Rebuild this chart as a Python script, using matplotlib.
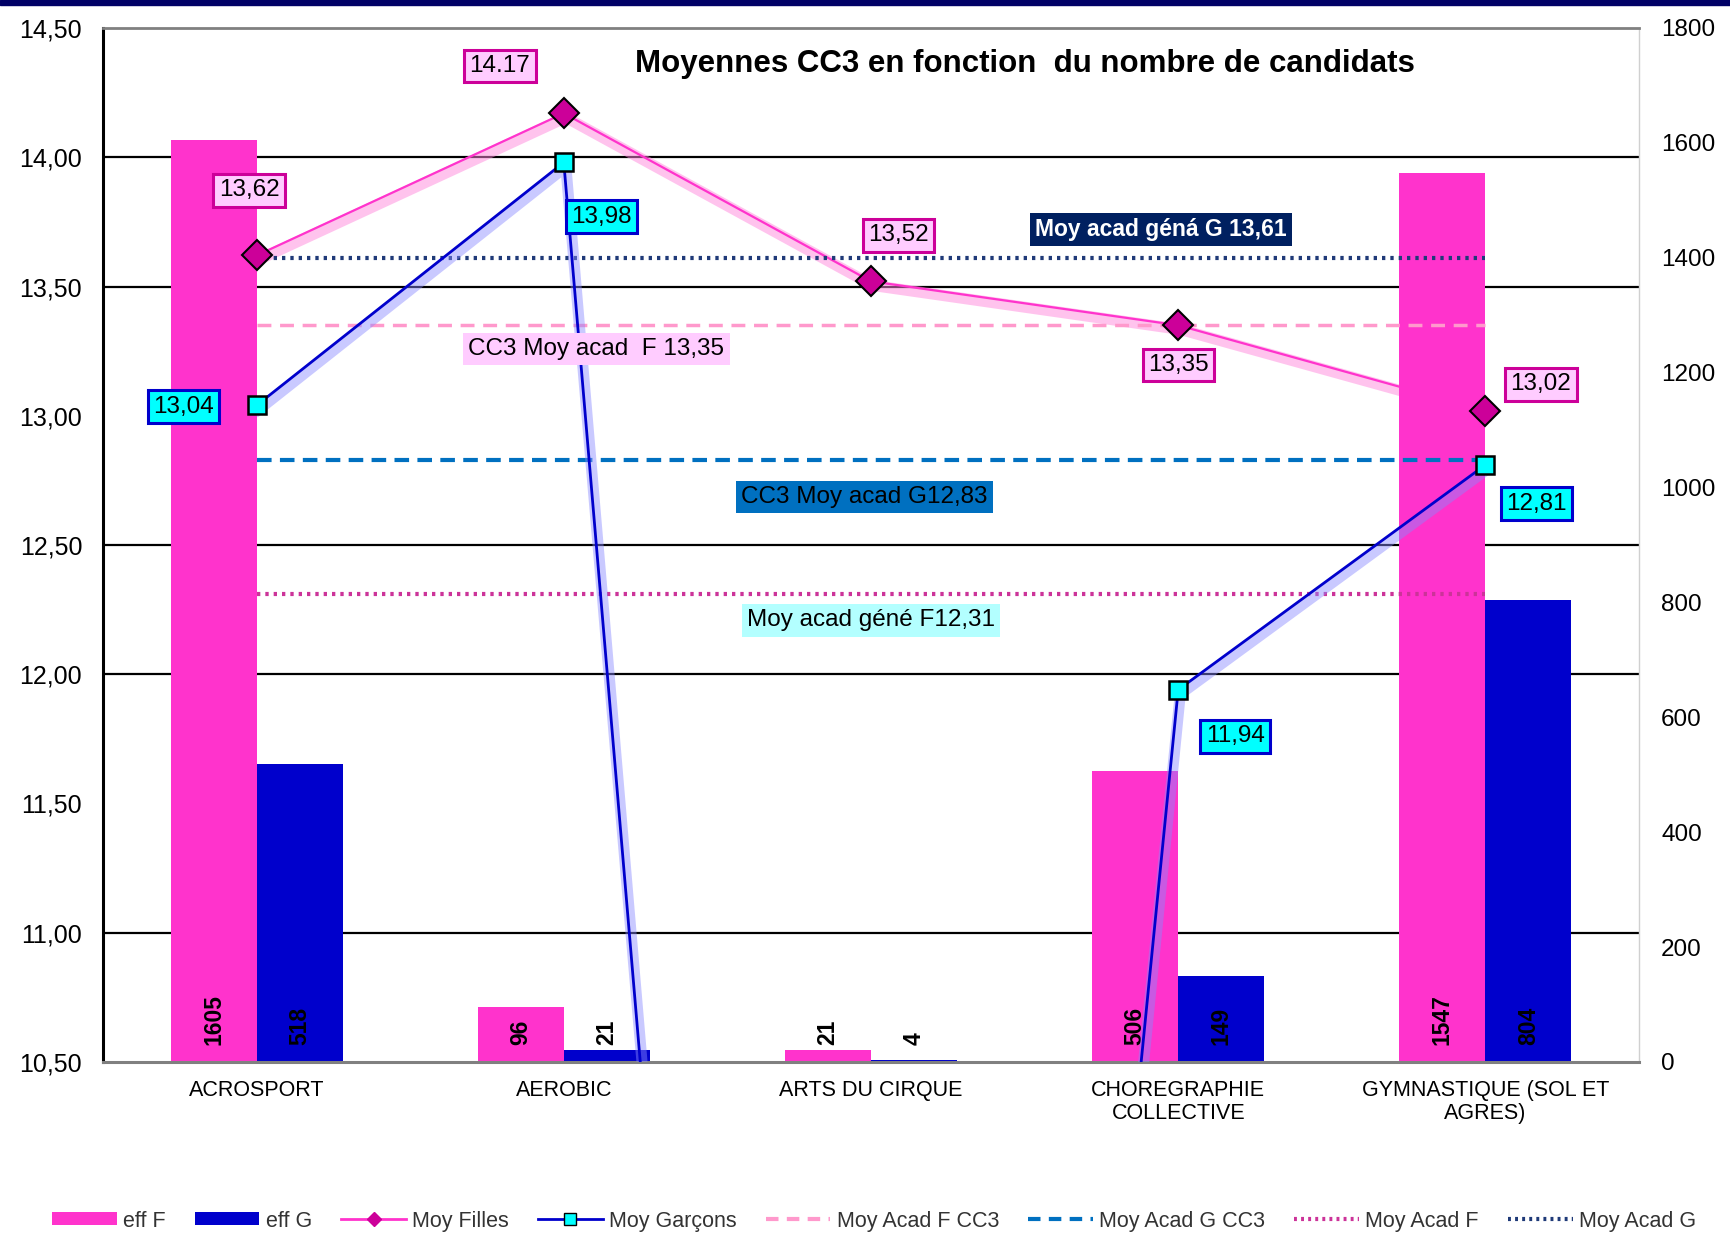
import matplotlib
matplotlib.use("Agg")
import matplotlib.pyplot as plt
import matplotlib.patheffects as pe
from matplotlib.ticker import FuncFormatter
from matplotlib.patches import Rectangle, Patch
from matplotlib.lines import Line2D
import numpy as np

plt.rcParams['font.family'] = ['Liberation Sans', 'DejaVu Sans']

# ---------------- data ----------------
categories = ["ACROSPORT", "AEROBIC", "ARTS DU CIRQUE",
              "CHOREGRAPHIE\nCOLLECTIVE", "GYMNASTIQUE (SOL ET\nAGRES)"]
eff_f = [1605, 96, 21, 506, 1547]
eff_g = [518, 21, 4, 149, 804]
moy_filles = [13.62, 14.17, 13.52, 13.35, 13.02]
moy_garcons = [13.04, 13.98, 0.0, 11.94, 12.81]
filles_labels = ["13,62", "14.17", "13,52", "13,35", "13,02"]
garcons_labels = ["13,04", "13,98", "", "11,94", "12,81"]
moy_acad_f_cc3 = [13.35, 13.35, 13.35, 13.35, 13.35]
moy_acad_g_cc3 = [12.83, 12.83, 12.83, 12.83, 12.83]
moy_acad_f = [12.31, 12.31, 12.31, 12.31, 12.31]
moy_acad_g = [13.61, 13.61, 13.61, 13.61, 13.61]
left_ticks = [10.5, 11.0, 11.5, 12.0, 12.5, 13.0, 13.5, 14.0, 14.5]
right_ticks = [0, 200, 400, 600, 800, 1000, 1200, 1400, 1600, 1800]
grid_levels = [11.0, 12.0, 12.5, 13.5, 14.0]
title = "Moyennes CC3 en fonction  du nombre de candidats"
legend_labels = ["eff F", "eff G", "Moy Filles", "Moy Garçons",
                 "Moy Acad F CC3", "Moy Acad G CC3", "Moy Acad F", "Moy Acad G"]

# ---------------- colours / styles ----------------
PINK = "#FF33CC"
BLUE = "#0000CC"
DIAMOND = "#CC0099"
CYAN = "#00FFFF"
C_FCC3 = "#FF99CC"
C_GCC3 = "#0070C0"
C_F = "#CC3399"
C_G = "#1F3A78"

fig = plt.figure(figsize=(17.31, 12.39), dpi=100)
fig.patches.append(Rectangle((0, 1 - 5 / 1239), 1, 5 / 1239, transform=fig.transFigure,
                             color="#000066", zorder=0))

rect = [103 / 1731, 177 / 1239, (1639 - 103) / 1731, (1062 - 28) / 1239]
ax_back = fig.add_axes(rect)
ax_bars = ax_back.twinx()
ax_front = ax_back.twinx()

x = np.arange(len(categories))
w = 0.28

# back axis: gridlines + girls line (behind bars)
ax_back.set_xlim(-0.5, len(categories) - 0.5)
ax_back.set_ylim(10.5, 14.5)
for g in grid_levels:
    ax_back.axhline(g, color="black", lw=1.6, zorder=1)
ax_back.plot(x, moy_filles, color=PINK, lw=1.6, zorder=2,
             path_effects=[pe.SimpleLineShadow(offset=(1.5, -3), shadow_color="#FF88DD",
                                               alpha=0.5, linewidth=8), pe.Normal()])
ax_back.set_yticks(left_ticks)
ax_back.yaxis.set_major_formatter(FuncFormatter(lambda v, p: f"{v:.2f}".replace(".", ",")))
ax_back.tick_params(axis="y", length=0, pad=15, labelsize=18)
ax_back.set_xticks(x)
ax_back.set_xticklabels(categories, fontsize=15.5, linespacing=1.1)
ax_back.tick_params(axis="x", length=0, pad=13)
for s in ax_back.spines.values():
    s.set_visible(False)

# bars axis
ax_bars.set_ylim(0, 1800)
ax_bars.bar(x - w / 2, eff_f, width=w, color=PINK, zorder=2)
ax_bars.bar(x + w / 2, eff_g, width=w, color=BLUE, zorder=2)
for xi, v in zip(x, eff_f):
    ax_bars.annotate(str(v), xy=(xi - w / 2, 0), xytext=(0, 12), textcoords="offset points",
                     rotation=90, ha="center", va="bottom", fontsize=16.5,
                     fontweight="bold", color="black")
for xi, v in zip(x, eff_g):
    ax_bars.annotate(str(v), xy=(xi + w / 2, 0), xytext=(0, 12), textcoords="offset points",
                     rotation=90, ha="center", va="bottom", fontsize=16.5,
                     fontweight="bold", color="black")
ax_bars.set_yticks(right_ticks)
ax_bars.tick_params(axis="y", length=0, pad=16, labelsize=17.5)
for s in ax_bars.spines.values():
    s.set_visible(False)

# front axis: reference lines, boys line, markers, labels
ax_front.set_ylim(10.5, 14.5)
ax_front.yaxis.set_visible(False)
ax_front.plot(x, moy_acad_f_cc3, color=C_FCC3, lw=2.5, ls=(0, (4, 2.5)), zorder=3)
ax_front.plot(x, moy_acad_g_cc3, color=C_GCC3, lw=3, ls=(0, (3.5, 2)), zorder=3)
ax_front.plot(x, moy_acad_f, color=C_F, lw=3, ls=(0, (0.8, 1.2)), zorder=3)
ax_front.plot(x, moy_acad_g, color=C_G, lw=3, ls=(0, (0.8, 1.2)), zorder=3)
ax_front.plot(x, moy_garcons, color=BLUE, lw=2, zorder=4,
              path_effects=[pe.SimpleLineShadow(offset=(1.5, -3), shadow_color="#8888FF",
                                                alpha=0.45, linewidth=8), pe.Normal()])
ax_front.plot(x, moy_filles, ls="none", marker="D", ms=15, mfc=DIAMOND, mec="black",
              mew=1.5, zorder=6)
ax_front.plot(x, moy_garcons, ls="none", marker="s", ms=12.5, mfc=CYAN, mec="black",
              mew=1.8, zorder=6)

f_off = [(-5.5, 47), (-46, 34), (20, 33), (0, -28.5), (40, 19)]
g_off = [(-52.5, -1), (27, -39), (0, 0), (41, -33.5), (37, -28)]
for xi, v, lab, o in zip(x, moy_filles, filles_labels, f_off):
    if lab:
        ax_front.annotate(lab, xy=(xi, v), xytext=o, textcoords="offset points",
                          ha="center", va="center", fontsize=17.5, color="black", zorder=7,
                          bbox=dict(boxstyle="square,pad=0.22", fc="#FFCCFF", ec=DIAMOND, lw=2.2))
for xi, v, lab, o in zip(x, moy_garcons, garcons_labels, g_off):
    if lab:
        ax_front.annotate(lab, xy=(xi, v), xytext=o, textcoords="offset points",
                          ha="center", va="center", fontsize=17.5, color="black", zorder=7,
                          bbox=dict(boxstyle="square,pad=0.22", fc=CYAN, ec=BLUE, lw=2.2))

ax_front.text(2.945, 13.719, "Moy acad géná G 13,61", ha="center", va="center", fontsize=16.5,
              fontweight="bold", color="white", zorder=7,
              bbox=dict(boxstyle="square,pad=0.22", fc="#002060", ec="none"))
ax_front.text(1.106, 13.258, "CC3 Moy acad  F 13,35", ha="center", va="center", fontsize=17.5,
              color="black", zorder=7,
              bbox=dict(boxstyle="square,pad=0.22", fc="#FFCCFF", ec="none"))
ax_front.text(1.978, 12.686, "CC3 Moy acad G12,83", ha="center", va="center", fontsize=17.5,
              color="black", zorder=7,
              bbox=dict(boxstyle="square,pad=0.22", fc="#0070C0", ec="none"))
ax_front.text(2.0, 12.208, "Moy acad géné F12,31", ha="center", va="center", fontsize=17.5,
              color="black", zorder=7,
              bbox=dict(boxstyle="square,pad=0.22", fc="#B3FFFF", ec="none"))

ax_front.text(2.5, 14.36, title, ha="center", va="center", fontsize=22.5,
              fontweight="bold", color="black", zorder=7)

for name, s in ax_front.spines.items():
    s.set_visible(True)
ax_front.spines["left"].set_color("black")
ax_front.spines["left"].set_linewidth(2.2)
ax_front.spines["bottom"].set_color("#808080")
ax_front.spines["bottom"].set_linewidth(2.2)
ax_front.spines["top"].set_color("#808080")
ax_front.spines["top"].set_linewidth(2)
ax_front.spines["right"].set_color("#D0D0D0")
ax_front.spines["right"].set_linewidth(1)

# legend
handles = [
    Patch(facecolor=PINK, edgecolor="none"),
    Patch(facecolor=BLUE, edgecolor="none"),
    Line2D([], [], color=PINK, lw=2, marker="D", ms=7, mfc=DIAMOND, mec=DIAMOND),
    Line2D([], [], color=BLUE, lw=2, marker="s", ms=9, mfc=CYAN, mec="black"),
    Line2D([], [], color=C_FCC3, lw=3, ls=(0, (3, 2))),
    Line2D([], [], color=C_GCC3, lw=3, ls=(0, (3, 2))),
    Line2D([], [], color=C_F, lw=3, ls=(0, (0.7, 1))),
    Line2D([], [], color=C_G, lw=3, ls=(0, (0.7, 1))),
]
fig.legend(handles, legend_labels, loc="center", bbox_to_anchor=(0.505, 0.0145), ncol=8,
           frameon=False, fontsize=15.5, handlelength=3.0, handleheight=0.55,
           handletextpad=0.3, columnspacing=1.35, labelcolor="#333333")

fig.savefig("out.png", dpi=100)
